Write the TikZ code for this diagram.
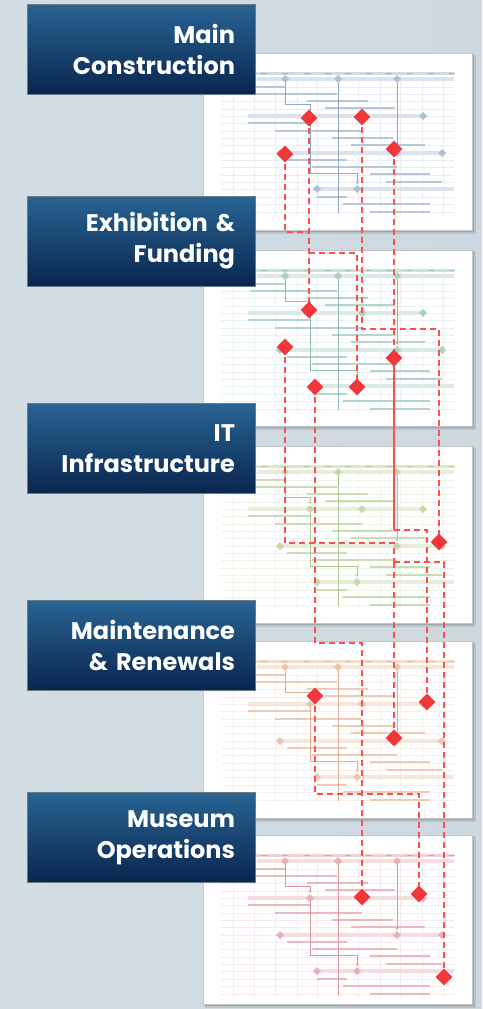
\documentclass[tikz,border=0pt]{standalone}
\usepackage{fontspec}
\newfontfamily\lblfont{Poppins}
\usetikzlibrary{shapes.geometric,arrows.meta}
\pgfdeclarelayer{back}
\pgfdeclarelayer{conn}
\pgfsetlayers{back,conn,main}
\definecolor{bgc}{RGB}{205,216,224}
\definecolor{bgl}{RGB}{211,221,228}
\definecolor{boxtop}{RGB}{40,100,148}
\definecolor{boxbot}{RGB}{9,37,78}
\definecolor{boxedge}{RGB}{110,122,134}
\definecolor{rline}{RGB}{255,78,78}
\definecolor{rdiam}{RGB}{242,55,58}
\definecolor{cA}{RGB}{95,130,165}
\definecolor{cB}{RGB}{90,160,140}
\definecolor{cC}{RGB}{140,175,90}
\definecolor{cD}{RGB}{215,140,95}
\definecolor{cE}{RGB}{205,100,110}
\tikzset{
  lblbox/.style={draw=boxedge, line width=0.8pt, top color=boxtop, bottom color=boxbot,
    minimum width=228pt, minimum height=90pt, text width=188pt, align=right, text=white,
    font=\lblfont\bfseries\fontsize{24}{31}\selectfont, inner sep=0pt},
  rdia/.style={diamond, fill=rdiam, minimum width=17pt, minimum height=17pt, inner sep=0pt},
  rdash/.style={rline, line width=2.2pt, dash pattern=on 6pt off 4pt},
  rsolid/.style={rline, line width=2.2pt},
  gridln/.style={gc!14, line width=0.5pt},
  gband/.style={gc!22, line width=4pt},
  gbar/.style={gc!45, line width=1.2pt},
  glink/.style={gc!70, line width=0.6pt},
}
\newcommand\gdia[2]{\fill[gc!50] (#1,#2-4) -- ++(4,4) -- ++(-4,4) -- ++(-4,-4) -- cycle;}
\newcommand\chartpanel[4]{%
  \colorlet{gc}{#4}%
  \begin{scope}[shift={(#1,#2)}]
    \fill[black,opacity=0.10] (2,2) rectangle (273,#3+4);
    \fill[black,opacity=0.14] (1,1) rectangle (271,#3+2);
    \fill[white,draw=gray!45,line width=0.6pt] (0,0) rectangle (269,#3);
    \foreach \gx in {30,51,72,94,114,135,155,177,197,219,240}
      \draw[gridln] (\gx,20) -- (\gx,162);
    \foreach \gy in {26,34,41,48,56,63,70,78,85,92,100,107,114,122,129,136,144,151,159}
      \draw[gridln] (18,\gy) -- (251,\gy);
    \draw[gc!30,line width=3pt] (18,20) -- (251,20);
    \foreach \gx in {61,82,104,125,145,166,186,207,228,249}
      \draw[gc!60,line width=1pt] (\gx-3,20) -- (\gx+3,20);
    \foreach \ya/\xa/\xb in {26/54/251,63/45/220,100/77/240,136/110/251}
      \draw[gband] (\xa,\ya) -- (\xb,\ya);
    \foreach \ya/\xa/\xb in {34/47/82,41/47/134,48/104/165,55/122/192,70/45/107,78/72/159,
        85/129/190,92/148/222,107/84/144,114/109/194,121/167/227,129/183/239,
        144/114/144,151/140/227,159/167/227}
      \draw[gbar] (\xa,\ya) -- (\xb,\ya);
    \draw[glink,-{Stealth[length=2.5pt,width=2.5pt]}] (82,26) |- (107,51) -- (107,58);
    \draw[glink] (135,26) -- (135,160);
    \draw[glink,-{Stealth[length=2.5pt,width=2.5pt]}] (194,26) -- (194,95);
    \draw[glink,-{Stealth[length=2.5pt,width=2.5pt]}] (107,63) |- (154,120) -- (154,131);
    \gdia{82}{26}\gdia{135}{26}\gdia{194}{26}
    \gdia{107}{63}\gdia{159}{63}\gdia{220}{63}
    \gdia{77}{100}\gdia{194}{100}\gdia{239}{100}
    \gdia{114}{136}\gdia{154}{136}
  \end{scope}}
\begin{document}
\begin{tikzpicture}[x=1pt,y=-1pt]
\useasboundingbox (0,0) rectangle (482,1009);
\begin{pgfonlayer}{back}
  \shade[left color=bgl, right color=bgc] (0,0) rectangle (482,1009);
  \chartpanel{203}{53}{177}{cA}
  \chartpanel{203}{250}{176}{cB}
  \chartpanel{203}{446}{177}{cC}
  \chartpanel{203}{641}{177}{cD}
  \chartpanel{203}{835}{169}{cE}
\end{pgfonlayer}

% red milestones
\node[rdia] (d1a) at (309,118) {};
\node[rdia] (d1b) at (362,117) {};
\node[rdia] (d1c) at (394,149) {};
\node[rdia] (d1d) at (285,154) {};
\node[rdia] (d2a) at (309,310) {};
\node[rdia] (d2b) at (285,347) {};
\node[rdia] (d2c) at (394,358) {};
\node[rdia] (d2d) at (315,387) {};
\node[rdia] (d2e) at (357,387) {};
\node[rdia] (d3a) at (439,542) {};
\node[rdia] (d4a) at (315,696) {};
\node[rdia] (d4b) at (427,702) {};
\node[rdia] (d4c) at (394,738) {};
\node[rdia] (d5a) at (362,897) {};
\node[rdia] (d5b) at (419,894) {};
\node[rdia] (d5c) at (444,977) {};

\coordinate (b1) at (285,232);
\coordinate (b2) at (309,232);
\coordinate (b3) at (309,253);
\coordinate (b4) at (357,253);
\coordinate (b5) at (362,329);
\coordinate (b6) at (439,329);
\coordinate (b7) at (394,530);
\coordinate (b8) at (427,530);
\coordinate (b9) at (285,543);
\coordinate (b10) at (394,543);
\coordinate (b11) at (394,562);
\coordinate (b12) at (444,562);
\coordinate (b13) at (315,643);
\coordinate (b14) at (362,643);
\coordinate (b15) at (315,794);
\coordinate (b16) at (419,794);

\begin{pgfonlayer}{conn}
  \draw[rdash] (d1a.center) -- (d2a.center);
  \draw[rdash] (d1d.center) -- (b1) -- (b2);
  \draw[rdash] (b3) -- (b4) -- (d2e.center);
  \draw[rdash] (d1b.center) -- (b5) -- (b6) -- (d3a.center);
  \draw[rdash] (d1c.center) -- (d2c.center);
  \draw[rsolid] (d2c.center) -- (b7);
  \draw[rdash] (b7) -- (b8) -- (d4b.center);
  \draw[rdash] (d2b.center) -- (b9) -- (b10) -- (b11);
  \draw[rdash] (b11) -- (b12) -- (d5c.center);
  \draw[rdash] (b11) -- (d4c.center);
  \draw[rdash] (d2d.center) -- (b13) -- (b14) -- (d5a.center);
  \draw[rdash] (d4a.center) -- (b15) -- (b16) -- (d5b.center);
\end{pgfonlayer}

% section labels
\node[lblbox] (l1) at (141,49) {Main\\Construction};
\node[lblbox] (l2) at (141,241) {Exhibition \&\\Funding};
\node[lblbox] (l3) at (141,448.5) {IT\\Infrastructure};
\node[lblbox] (l4) at (141,645.5) {Maintenance\\\& Renewals};
\node[lblbox] (l5) at (141,837.5) {Museum\\Operations};
\end{tikzpicture}
\end{document}
